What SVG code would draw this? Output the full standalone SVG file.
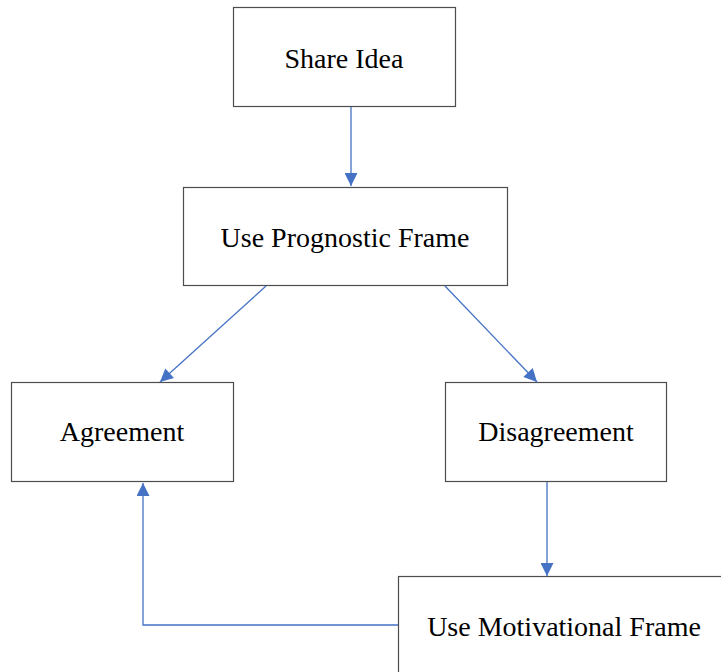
<svg xmlns="http://www.w3.org/2000/svg" width="721" height="672" viewBox="0 0 721 672">
  <style>
    .box { fill: #ffffff; stroke: #4d4d4d; stroke-width: 1.2; }
    .label { font-family: "Liberation Serif", "Times New Roman", serif; font-size: 28px; fill: #000000; text-anchor: middle; }
    .edge { fill: none; stroke: #4472c4; stroke-width: 1.3; marker-end: url(#arrow); }
  </style>
  <defs>
    <marker id="arrow" viewBox="0 0 10 10" refX="10" refY="5" markerWidth="14" markerHeight="13" markerUnits="userSpaceOnUse" orient="auto">
      <path d="M0,0 L10,5 L0,10 Z" fill="#4472c4"/>
    </marker>
  </defs>

  <g id="share-idea">
    <rect class="box" x="233.5" y="7.5" width="222" height="99"/>
    <text class="label" x="344" y="68">Share Idea</text>
  </g>

  <g id="use-prognostic-frame">
    <rect class="box" x="183.5" y="187.5" width="324" height="98"/>
    <text class="label" x="345" y="247">Use Prognostic Frame</text>
  </g>

  <g id="agreement">
    <rect class="box" x="11.5" y="382.5" width="222" height="99"/>
    <text class="label" x="122" y="441">Agreement</text>
  </g>

  <g id="disagreement">
    <rect class="box" x="445.5" y="382.5" width="221" height="99"/>
    <text class="label" x="556" y="441">Disagreement</text>
  </g>

  <g id="use-motivational-frame">
    <rect class="box" x="398.5" y="576.5" width="340" height="110"/>
    <text class="label" x="564" y="636">Use Motivational Frame</text>
  </g>

  <g id="connectors">
    <path class="edge" d="M351,107 L351,186"/>
    <path class="edge" d="M266,286 L160,382"/>
    <path class="edge" d="M445,286 L537,382"/>
    <path class="edge" d="M547,482 L547,576"/>
    <path class="edge" d="M398,625 L143,625 L143,483"/>
  </g>
</svg>
